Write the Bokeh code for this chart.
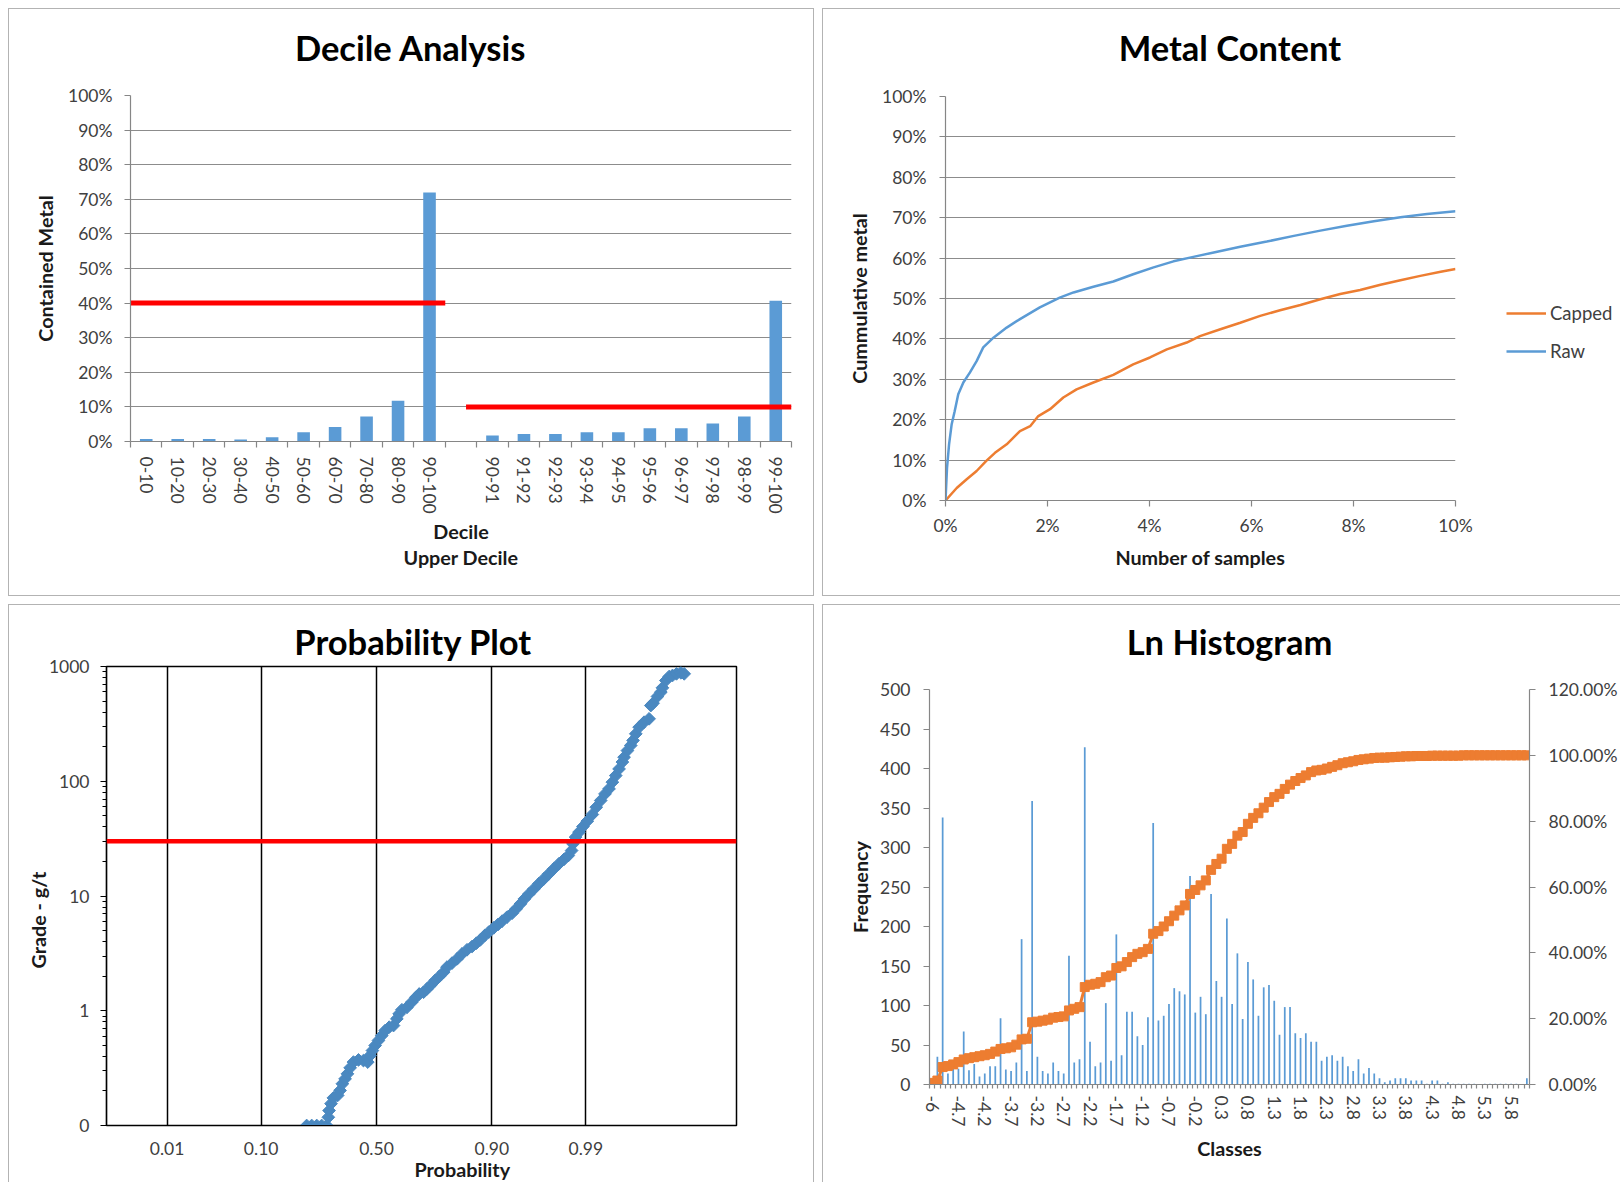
import numpy as np
from bokeh.plotting import figure
from bokeh.layouts import column, row
from bokeh.models import (FixedTicker, Range1d, LinearAxis, Legend, LegendItem, Title,
                          PrintfTickFormatter, Span, Spacer)
from bokeh.embed import file_html
from bokeh.resources import INLINE

# ------------------------------------------------------------------ data
DECILE_LABELS = ["0-10", "10-20", "20-30", "30-40", "40-50", "50-60", "60-70", "70-80",
                 "80-90", "90-100", "", "90-91", "91-92", "92-93", "93-94", "94-95",
                 "95-96", "96-97", "97-98", "98-99", "99-100"]
DECILE_METAL_PCT = [0.7, 0.7, 0.7, 0.6, 1.25, 2.7, 4.2, 7.2, 11.8, 72.0, None,
                    1.7, 2.2, 2.2, 2.7, 2.7, 3.8, 3.8, 5.2, 7.2, 40.7]
DECILE_CUTOFF_PCT = [40, 10]
DECILE_CUTOFF_START = [0.0, 10.66]
DECILE_CUTOFF_END = [10.0, 21.0]

METAL_RAW_X = [0, 0.03, 0.07, 0.12, 0.18, 0.25, 0.35, 0.48, 0.61, 0.74, 0.94, 1.20, 1.46,
               1.85, 2.24, 2.51, 2.90, 3.29, 3.68, 4.08, 4.47, 4.86, 5.26, 5.78, 6.30, 6.83,
               7.35, 7.87, 8.40, 8.92, 9.44, 10.0]
METAL_RAW_Y = [0, 8.1, 13.9, 18.8, 22.1, 26.3, 29.2, 31.7, 34.5, 37.9, 40.3, 42.8, 44.9,
               47.8, 50.2, 51.5, 52.9, 54.2, 56.0, 57.7, 59.2, 60.3, 61.4, 62.8, 64.1, 65.5,
               66.8, 68.0, 69.1, 70.1, 70.9, 71.6]
METAL_CAPPED_X = [0, 0.22, 0.41, 0.61, 0.80, 0.97, 1.20, 1.46, 1.66, 1.82, 2.05, 2.31, 2.57,
                  2.90, 3.29, 3.68, 4.01, 4.34, 4.73, 4.99, 5.39, 5.78, 6.17, 6.56, 6.96,
                  7.35, 7.74, 8.13, 8.53, 8.92, 9.31, 9.71, 10.0]
METAL_CAPPED_Y = [0, 3.1, 5.2, 7.3, 9.8, 11.8, 13.9, 17.2, 18.4, 20.9, 22.6, 25.5, 27.5,
                  29.2, 31.1, 33.7, 35.4, 37.4, 39.1, 40.7, 42.4, 44.0, 45.7, 47.1, 48.4,
                  49.8, 51.1, 52.1, 53.4, 54.5, 55.6, 56.6, 57.3]
METAL_SERIES = ["Capped", "Raw"]

PROB_TICK_LABELS = ["0.01", "0.10", "0.50", "0.90", "0.99"]
PROB_TICK_Z = [-2.3263, -1.2816, 0.0, 1.2816, 2.3263]
PROB_Z = [-0.776, -0.720, -0.664, -0.609, -0.553, -0.535, -0.527, -0.505, -0.479, -0.431,
          -0.405, -0.379, -0.349, -0.323, -0.293, -0.256, -0.200, -0.145, -0.097, -0.071,
          -0.045, -0.015, 0.022, 0.059, 0.097, 0.141, 0.189, 0.226, 0.252, 0.282,
          0.338, 0.393, 0.438, 0.475, 0.523, 0.561, 0.609, 0.653, 0.698, 0.746,
          0.783, 0.839, 0.895, 0.950, 1.006, 1.062, 1.110, 1.154, 1.203, 1.247,
          1.303, 1.351, 1.396, 1.451, 1.507, 1.552, 1.600, 1.644, 1.693, 1.748,
          1.804, 1.860, 1.915, 1.971, 2.027, 2.082, 2.131, 2.168, 2.183, 2.212,
          2.250, 2.294, 2.342, 2.398, 2.442, 2.491, 2.539, 2.584, 2.621, 2.658,
          2.695, 2.732, 2.751, 2.788, 2.825, 2.851, 2.881, 2.918, 2.973, 3.029,
          3.048, 3.073, 3.122, 3.159, 3.177, 3.215, 3.252, 3.289, 3.333, 3.382,
          3.419]
PROB_GRADE = [0.10, 0.10, 0.10, 0.10, 0.10, 0.118, 0.135, 0.155, 0.174, 0.183,
              0.202, 0.231, 0.255, 0.282, 0.318, 0.357, 0.373, 0.368, 0.357, 0.407,
              0.450, 0.498, 0.551, 0.608, 0.673, 0.719, 0.743, 0.851, 0.940, 1.02,
              1.07, 1.19, 1.31, 1.40, 1.45, 1.55, 1.69, 1.84, 1.99, 2.17,
              2.40, 2.60, 2.83, 3.13, 3.40, 3.63, 3.88, 4.15, 4.53, 4.84,
              5.28, 5.65, 6.04, 6.55, 7.08, 7.73, 8.55, 9.44, 10.4, 11.5,
              12.8, 14.1, 15.6, 17.3, 19.1, 20.8, 22.5, 24.9, 28.5, 32.6,
              36.0, 40.3, 44.9, 51.3, 59.4, 67.9, 77.6, 85.9, 98.2, 112,
              128, 147, 162, 185, 205, 227, 259, 296, 327, 350,
              457, 479, 548, 597, 652, 755, 818, 835, 863, 881,
              863]
PROB_CUTOFF_GRADE = 30
GRADE_TICKS = [0.1, 1, 10, 100, 1000]
GRADE_TICK_LABELS = ["0", "1", "10", "100", "1000"]

HIST_CLASSES = ("-6 -5.1 -5 -4.9 -4.8 -4.7 -4.6 -4.5 -4.4 -4.3 -4.2 -4.1 -4 -3.9 -3.8 -3.7 "
                "-3.6 -3.5 -3.4 -3.3 -3.2 -3.1 -3 -2.9 -2.8 -2.7 -2.6 -2.5 -2.4 -2.3 -2.2 "
                "-2.1 -2 -1.9 -1.8 -1.7 -1.6 -1.5 -1.4 -1.3 -1.2 -1.1 -1 -0.9 -0.8 -0.7 "
                "-0.6 -0.5 -0.4 -0.3 -0.2 -0.1 0 0.1 0.2 0.3 0.4 0.5 0.6 0.7 0.8 0.9 1 "
                "1.1 1.2 1.3 1.4 1.5 1.6 1.7 1.8 1.9 2 2.1 2.2 2.3 2.4 2.5 2.6 2.7 2.8 "
                "2.9 3 3.1 3.2 3.3 3.4 3.5 3.6 3.7 3.8 3.9 4 4.1 4.2 4.3 4.4 4.5 4.6 4.7 "
                "4.8 4.9 5 5.1 5.2 5.3 5.4 5.5 5.6 5.7 5.8 5.9 6 6.1").split()
HIST_FREQ = [5, 35, 338, 14, 20, 20, 67, 18, 26, 10,
             14, 23, 23, 84, 19, 17, 28, 184, 17, 359,
             35, 17, 14, 28, 17, 14, 163, 28, 32, 427,
             54, 23, 28, 103, 30, 190, 37, 92, 92, 61,
             50, 85, 331, 81, 87, 102, 122, 118, 114, 264,
             91, 111, 89, 241, 131, 111, 210, 102, 166, 83,
             155, 133, 87, 123, 126, 106, 63, 98, 98, 65,
             59, 65, 54, 54, 30, 35, 37, 30, 35, 23,
             17, 32, 14, 21, 14, 8, 3, 5, 8, 8,
             8, 5, 5, 5, 1, 5, 5, 1, 3, 1,
             1, 1, 1, 1, 0, 1, 1, 1, 1, 1,
             1, 1, 0, 8]
HIST_CUM_PCT = [0.5, 1.2, 5.3, 5.6, 6.1, 6.8, 7.6, 8.0, 8.3, 8.6,
                8.9, 9.3, 10.0, 10.8, 11.0, 11.3, 12.1, 13.7, 13.9, 18.9,
                19.1, 19.4, 19.7, 20.3, 20.5, 20.7, 22.5, 23.0, 23.5, 29.6,
                30.3, 30.6, 31.1, 32.6, 33.1, 35.4, 35.9, 37.2, 38.7, 39.7,
                40.2, 41.2, 45.8, 46.6, 48.0, 49.6, 51.3, 52.9, 54.4, 57.9,
                59.1, 60.5, 62.0, 65.2, 67.0, 68.6, 71.6, 73.1, 75.6, 76.7,
                79.2, 81.0, 82.4, 84.1, 85.8, 87.3, 88.3, 89.8, 91.1, 92.2,
                93.1, 93.9, 94.9, 95.4, 95.6, 96.0, 96.5, 97.0, 97.6, 97.9,
                98.2, 98.6, 98.8, 99.0, 99.2, 99.3, 99.3, 99.4, 99.5, 99.6,
                99.7, 99.7, 99.8, 99.8, 99.8, 99.9, 99.9, 99.9, 99.9, 99.9,
                99.9, 100.0, 100.0, 100.0, 100.0, 100.0, 100.0, 100.0, 100.0, 100.0,
                100.0, 100.0, 100.0, 100.0]

# ------------------------------------------------------------------ style
FONT = "Lato"
TICK_PX = "17.5px"
LEGEND_PX = "18.5px"
TITLE_PX = "34.5px"
AXTITLE_PX = "19.75px"
TICK_COLOR = "#404040"
AXIS_COLOR = "#868686"
GRID_COLOR = "#8c8c8c"
BLUE = "#5b9bd5"
PROB_BLUE = "#4a88c0"
ORANGE = "#ed7d31"
RED = "#ff0000"
BORDER = "#b3b3b3"
AXTITLE_COLOR = "#1a1a1a"
NB = "\u00a0"                 # non-breaking space, used to nudge centred titles sideways
SPACER_TEXT = "\u200b\u00a0"  # blank (but sized) text for an invisible spacer row


def style_axis(ax, tick_out=6, standoff=12):
    ax.axis_line_color = AXIS_COLOR
    ax.axis_line_width = 1.2
    ax.major_tick_line_color = AXIS_COLOR
    ax.major_tick_line_width = 1.2
    ax.minor_tick_line_color = AXIS_COLOR
    ax.minor_tick_line_width = 1.2
    ax.major_tick_in = 0
    ax.minor_tick_in = 0
    ax.major_tick_out = tick_out
    ax.minor_tick_out = 0
    ax.major_label_standoff = standoff
    ax.major_label_text_font = FONT
    ax.major_label_text_font_size = TICK_PX
    ax.major_label_text_color = TICK_COLOR
    ax.axis_label_text_font = FONT
    ax.axis_label_text_font_size = AXTITLE_PX
    ax.axis_label_text_font_style = "bold"
    ax.axis_label_text_color = AXTITLE_COLOR


def make_title(text, size, standoff, valign="bottom", color=AXTITLE_COLOR):
    return Title(text=text, align="center", standoff=standoff, vertical_align=valign,
                 text_font=FONT, text_font_size=size, text_font_style="bold",
                 text_color=color)


def add_main_title(p, text, spacer_standoff=None, standoff=0, valign="top"):
    main = make_title(text, TITLE_PX, standoff, valign, "#000000")
    if spacer_standoff is None:
        p.title = main
    else:
        # an invisible spacer row next to the frame lifts the chart title up
        p.add_layout(Title(text=SPACER_TEXT, text_font=FONT, text_font_size="10px",
                           standoff=spacer_standoff, text_color="#ffffff"), "above")
        p.add_layout(main, "above")


def make_fig(w, h, left, right, top, bottom, shadow=None, **kw):
    p = figure(width=w, height=h, output_backend="svg", toolbar_location=None,
               min_border_left=left, min_border_right=right,
               min_border_top=top, min_border_bottom=bottom,
               border_fill_color=None, outline_line_color=None, title=None, **kw)
    if "frame_align" in p.properties():
        p.frame_align = False
    if shadow:
        p.styles = {"box-shadow": shadow}
    return p


# ------------------------------------------------------------------ Decile Analysis
n_dec = len(DECILE_LABELS)
p1 = make_fig(806, 588, 122, 23, 87, 155, f"inset 0 0 0 1px {BORDER}",
              x_range=Range1d(0, n_dec), y_range=Range1d(0, 100))
dec_x = [i + 0.5 for i, v in enumerate(DECILE_METAL_PCT) if v is not None]
dec_v = [v for v in DECILE_METAL_PCT if v is not None]
p1.vbar(x=dec_x, top=dec_v, width=0.4, fill_color=BLUE, line_color=None)
p1.segment(x0=DECILE_CUTOFF_START, y0=DECILE_CUTOFF_PCT, x1=DECILE_CUTOFF_END,
           y1=DECILE_CUTOFF_PCT, line_color=RED, line_width=5)
style_axis(p1.yaxis[0], 6, 12)
p1.yaxis.ticker = FixedTicker(ticks=list(range(0, 101, 10)))
p1.yaxis.formatter = PrintfTickFormatter(format="%d%%")
p1.yaxis.axis_label = "Contained Metal"
p1.yaxis.axis_label_standoff = 8
style_axis(p1.xaxis[0], 0, 9)
p1.xaxis.ticker = FixedTicker(ticks=[i + 0.5 for i, l in enumerate(DECILE_LABELS) if l],
                              minor_ticks=list(range(n_dec + 1)))
p1.xaxis.major_label_overrides = {i + 0.5: l for i, l in enumerate(DECILE_LABELS) if l}
p1.xaxis.major_label_orientation = "vertical"
p1.xaxis.minor_tick_out = 6
p1.xaxis.axis_label = "Decile"
p1.xaxis.axis_label_standoff = 3
p1.xgrid.visible = False
p1.ygrid.grid_line_color = GRID_COLOR
p1.ygrid.grid_line_width = 1.2
add_main_title(p1, "Decile Analysis" + NB * 12, spacer_standoff=12)
p1.add_layout(make_title("Upper Decile", AXTITLE_PX, -3), "below")

# ------------------------------------------------------------------ Metal Content
p2 = make_fig(660, 588, 123, 27, 88, 96, x_range=Range1d(0, 10), y_range=Range1d(0, 100))
r_cap = p2.line(METAL_CAPPED_X, METAL_CAPPED_Y, line_color=ORANGE, line_width=2.5)
r_raw = p2.line(METAL_RAW_X, METAL_RAW_Y, line_color=BLUE, line_width=2.5)
style_axis(p2.yaxis[0], 6, 13)
p2.yaxis.ticker = FixedTicker(ticks=list(range(0, 101, 10)))
p2.yaxis.formatter = PrintfTickFormatter(format="%d%%")
p2.yaxis.axis_label = "Cummulative metal"
p2.yaxis.axis_label_standoff = 8
style_axis(p2.xaxis[0], 6, 8)
p2.xaxis.ticker = FixedTicker(ticks=list(range(0, 11, 2)))
p2.xaxis.formatter = PrintfTickFormatter(format="%d%%")
p2.xaxis.axis_label = "Number of samples"
p2.xaxis.axis_label_standoff = 7
p2.xgrid.visible = False
p2.ygrid.grid_line_color = GRID_COLOR
p2.ygrid.grid_line_width = 1.2
add_main_title(p2, NB * 7 + "Metal Content", spacer_standoff=13)

# legend lives in a narrow companion canvas to the right of the chart
p2leg = make_fig(138, 588, 0, 0, 0, 0, x_axis_location=None, y_axis_location=None,
                 x_range=Range1d(0, 1), y_range=Range1d(0, 1))
p2leg.background_fill_color = None
p2leg.grid.visible = False
leg_cap = p2leg.line(x=[np.nan, np.nan], y=[np.nan, np.nan], line_color=ORANGE, line_width=2.5)
leg_raw = p2leg.line(x=[np.nan, np.nan], y=[np.nan, np.nan], line_color=BLUE, line_width=2.5)
legend = Legend(items=[LegendItem(label=METAL_SERIES[0], renderers=[leg_cap]),
                       LegendItem(label=METAL_SERIES[1], renderers=[leg_raw])],
                location=(24, 234), orientation="vertical", padding=0, margin=0,
                spacing=16, glyph_width=40, glyph_height=20, label_height=20,
                label_standoff=4, border_line_color=None, background_fill_alpha=0,
                label_text_font=FONT, label_text_font_size=LEGEND_PX,
                label_text_color=TICK_COLOR, label_text_baseline="middle")
p2leg.add_layout(legend)
tr_panel = row(p2, p2leg)
tr_panel.styles = {"box-shadow": f"inset 1px 1px 0 0 {BORDER}, inset 0 -1px 0 0 {BORDER}"}

# ------------------------------------------------------------------ Probability Plot
p3 = make_fig(806, 578, 98, 78, 62, 57,
              f"inset 1px 1px 0 0 {BORDER}, inset -1px 0 0 0 {BORDER}",
              x_range=Range1d(-3, 4), y_range=Range1d(0.1, 1000), y_axis_type="log")
p3.outline_line_color = "#000000"
p3.outline_line_width = 1.5
p3.scatter(PROB_Z, PROB_GRADE, marker="square", angle=np.pi / 4, size=9,
           fill_color=PROB_BLUE, line_color=PROB_BLUE)
p3.add_layout(Span(location=PROB_CUTOFF_GRADE, dimension="width", line_color=RED,
                   line_width=4.5))
style_axis(p3.yaxis[0], 6, 11)
p3.yaxis.axis_line_color = "#000000"
p3.yaxis.major_tick_line_color = "#000000"
p3.yaxis.minor_tick_line_color = "#000000"
p3.yaxis.minor_tick_out = 4
p3.yaxis.ticker = FixedTicker(ticks=GRADE_TICKS,
                              minor_ticks=[m * d for d in (0.1, 1, 10, 100) for m in range(2, 10)])
p3.yaxis.major_label_overrides = dict(zip(GRADE_TICKS, GRADE_TICK_LABELS))
p3.yaxis.axis_label = "Grade - g/t" + NB * 10
p3.yaxis.axis_label_standoff = -4
style_axis(p3.xaxis[0], 0, 16)
p3.xaxis.axis_line_color = "#000000"
p3.xaxis.ticker = FixedTicker(ticks=PROB_TICK_Z)
p3.xaxis.major_label_overrides = dict(zip(PROB_TICK_Z, PROB_TICK_LABELS))
p3.xgrid.ticker = FixedTicker(ticks=PROB_TICK_Z)
p3.xgrid.grid_line_color = "#000000"
p3.xgrid.grid_line_width = 1.5
p3.ygrid.visible = False
add_main_title(p3, "Probability Plot" + NB * 2, standoff=10, valign="bottom")
p3.add_layout(make_title(NB * 17 + "Probability", AXTITLE_PX, -4), "below")

# ------------------------------------------------------------------ Ln Histogram
n_cls = len(HIST_CLASSES)
p4 = make_fig(798, 578, 107, 91, 85, 98, f"inset 1px 1px 0 0 {BORDER}",
              x_range=Range1d(0, n_cls), y_range=Range1d(0, 500))
p4.extra_y_ranges = {"pct": Range1d(0, 120)}
cls_x = [i + 0.5 for i in range(n_cls)]
p4.vbar(x=cls_x, top=HIST_FREQ, width=0.33, fill_color=BLUE, line_color=None)
p4.line(cls_x, HIST_CUM_PCT, y_range_name="pct", line_color=ORANGE, line_width=3)
p4.scatter(cls_x, HIST_CUM_PCT, y_range_name="pct", marker="square", size=9,
           fill_color=ORANGE, line_color=ORANGE)
style_axis(p4.yaxis[0], 6, 13)
p4.yaxis.ticker = FixedTicker(ticks=list(range(0, 501, 50)))
p4.yaxis.axis_label = "Frequency"
p4.yaxis.axis_label_standoff = 5
right_ax = LinearAxis(y_range_name="pct", ticker=FixedTicker(ticks=list(range(0, 121, 20))),
                      formatter=PrintfTickFormatter(format="%.2f%%"))
style_axis(right_ax, 6, 13)
p4.add_layout(right_ax, "right")
style_axis(p4.xaxis[0], 0, 7)
p4.xaxis.ticker = FixedTicker(ticks=[i + 0.5 for i in range(0, n_cls, 5)],
                              minor_ticks=list(range(n_cls + 1)))
p4.xaxis.major_label_overrides = {i + 0.5: HIST_CLASSES[i] for i in range(0, n_cls, 5)}
p4.xaxis.major_label_orientation = "vertical"
p4.xaxis.minor_tick_out = 4
p4.xaxis.axis_label = "Classes"
p4.xaxis.axis_label_standoff = 8
p4.xgrid.visible = False
p4.ygrid.visible = False
add_main_title(p4, "Ln Histogram", spacer_standoff=12)

grid = column(row(p1, tr_panel, spacing=8), row(p3, p4, spacing=8), spacing=8)
page = column(Spacer(height=8), row(Spacer(width=8), grid))
open("out.html", "w").write(file_html(page, INLINE))
